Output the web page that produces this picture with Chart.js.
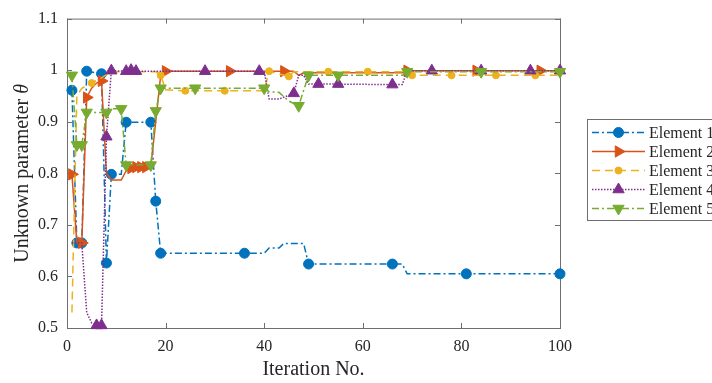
<!DOCTYPE html>
<html>
<head>
<meta charset="utf-8">
<script src="https://cdn.jsdelivr.net/npm/chart.js@4"></script>
<style>
html, body { margin: 0; padding: 0; background: #fff; }
</style>
</head>
<body>
<canvas id="chart" width="712" height="383"></canvas>
<script>
// series: iteration, value, and iterations that carry a marker
const names = ["Element 1", "Element 2", "Element 3", "Element 4", "Element 5"];

const e1X = [1, 2, 3, 4, 7, 8, 9, 11, 12, 17, 18, 19, 36, 40, 41, 43, 44, 48, 49, 66, 68, 69, 81, 100];
const e1Y = [0.961, 0.665, 0.665, 0.998, 0.993, 0.626, 0.798, 0.798, 0.899, 0.899, 0.746, 0.645, 0.645, 0.645, 0.655, 0.655, 0.664, 0.664, 0.624, 0.624, 0.624, 0.605, 0.605, 0.605];
const e1Marks = [1, 2, 3, 4, 7, 8, 9, 12, 17, 18, 19, 36, 49, 66, 81, 100];

const e2X = [1, 2, 3, 4, 5, 6, 7, 8, 9, 11, 12, 13, 14, 15, 16, 17, 18, 19, 20, 33, 44, 46, 47, 48, 68, 69, 83, 96, 100];
const e2Y = [0.798, 0.665, 0.665, 0.947, 0.965, 0.975, 0.979, 0.80, 0.787, 0.787, 0.805, 0.81, 0.812, 0.812, 0.812, 0.812, 0.90, 0.99, 0.998, 0.998, 0.998, 0.998, 0.99, 0.995, 0.995, 0.999, 0.999, 0.999, 0.999];
const e2Marks = [1, 3, 4, 7, 13, 14, 15, 16, 20, 33, 44, 69, 83, 96];

const e3X = [1, 2, 3, 5, 7, 9, 17, 18, 19, 20, 24, 32, 40, 41, 45, 46, 53, 61, 68, 70, 78, 87, 95, 100];
const e3Y = [0.53, 0.95, 0.965, 0.975, 0.985, 0.997, 0.997, 0.997, 0.99, 0.962, 0.96, 0.96, 0.96, 0.998, 0.988, 0.997, 0.997, 0.997, 0.997, 0.99, 0.99, 0.99, 0.99, 0.99];
const e3Marks = [5, 19, 24, 32, 41, 45, 53, 61, 70, 78, 87, 95];

const e4X = [1, 2, 3, 4, 5, 6, 7, 8, 9, 12, 13, 14, 28, 39, 40, 41, 43, 46, 47, 48, 49, 51, 55, 66, 68, 69, 74, 84, 94, 100];
const e4Y = [0.665, 0.665, 0.665, 0.53, 0.51, 0.505, 0.505, 0.871, 0.999, 0.998, 1.0, 0.998, 0.998, 0.998, 0.998, 0.944, 0.944, 0.955, 0.99, 0.99, 0.973, 0.973, 0.973, 0.972, 0.972, 0.999, 0.999, 0.999, 0.999, 0.999];
const e4Marks = [6, 7, 8, 9, 12, 13, 14, 28, 39, 46, 51, 55, 66, 74, 84, 94, 100];

const e5X = [1, 2, 3, 4, 8, 9, 11, 12, 17, 18, 19, 26, 40, 41, 43, 45, 47, 49, 55, 68, 69, 84, 100];
const e5Y = [0.99, 0.855, 0.855, 0.918, 0.918, 0.925, 0.925, 0.816, 0.816, 0.921, 0.965, 0.965, 0.965, 0.958, 0.957, 0.94, 0.931, 0.99, 0.99, 0.99, 0.997, 0.997, 0.997];
const e5Marks = [1, 2, 3, 4, 8, 11, 12, 17, 18, 19, 26, 40, 47, 49, 55, 69, 84, 100];

const FONT = '"Liberation Serif", "Times New Roman", serif';
const TEXT = "#262626";
const AXIS = "#6f6f6f";

function points(xs, ys) {
    return xs.map((x, i) => ({ x: x, y: ys[i] }));
}

function markAt(marks, r) {
    return (ctx) => (ctx.raw && marks.includes(ctx.raw.x) ? r : 0);
}

function series(i, xs, ys, marks, style) {
    return Object.assign({
        label: names[i],
        data: points(xs, ys),
        borderWidth: 1.5,
        pointRadius: markAt(marks, style.r),
        pointHoverRadius: 0,
        pointBorderWidth: 1,
        pointBackgroundColor: style.borderColor,
        tension: 0,
        fill: false,
        clip: false,
        order: 4 - i,
    }, style);
}

const datasets = [
    series(0, e1X, e1Y, e1Marks, { borderColor: "#0072BD", borderDash: [7, 3, 2, 3], pointStyle: "circle", r: 5, pointRotation: 0 }),
    series(1, e2X, e2Y, e2Marks, { borderColor: "#D95319", borderDash: [], pointStyle: "triangle", r: 6.5, pointRotation: 90 }),
    series(2, e3X, e3Y, e3Marks, { borderColor: "#EDB120", borderDash: [8, 5], pointStyle: "circle", r: 3.5, pointRotation: 0 }),
    series(3, e4X, e4Y, e4Marks, { borderColor: "#7E2F8E", borderDash: [1.5, 1.5], pointStyle: "triangle", r: 6.5, pointRotation: 0 }),
    series(4, e5X, e5Y, e5Marks, { borderColor: "#77AC30", borderDash: [7, 3, 2, 3], pointStyle: "triangle", r: 6.5, pointRotation: 180 }),
];

// box round the axes with inward ticks, like matlab
const framePlugin = {
    id: "frame",
    beforeDatasetsDraw(chart) {
        const { ctx, chartArea: a, scales } = chart;
        ctx.save();
        ctx.strokeStyle = AXIS;
        ctx.lineWidth = 1;
        ctx.strokeRect(a.left + 0.5, a.top + 0.5, a.right - a.left, a.bottom - a.top);
        const len = 5;
        ctx.beginPath();
        scales.x.ticks.forEach((t) => {
            const px = Math.round(scales.x.getPixelForValue(t.value)) + 0.5;
            ctx.moveTo(px, a.bottom);
            ctx.lineTo(px, a.bottom - len);
            ctx.moveTo(px, a.top);
            ctx.lineTo(px, a.top + len);
        });
        scales.y.ticks.forEach((t) => {
            const py = Math.round(scales.y.getPixelForValue(t.value)) + 0.5;
            ctx.moveTo(a.left, py);
            ctx.lineTo(a.left + len, py);
            ctx.moveTo(a.right, py);
            ctx.lineTo(a.right - len, py);
        });
        ctx.stroke();
        ctx.restore();
    },
};

const titlePlugin = {
    id: "titles",
    afterDraw(chart) {
        const { ctx, chartArea: a } = chart;
        ctx.save();
        ctx.fillStyle = TEXT;
        ctx.textBaseline = "middle";
        ctx.textAlign = "center";
        ctx.font = "20px " + FONT;
        ctx.fillText("Iteration No.", (a.left + a.right) / 2, 370);

        // y title, with theta in italics
        const part1 = "Unknown parameter ";
        const part2 = "\u03B8";
        ctx.font = "20px " + FONT;
        const w1 = ctx.measureText(part1).width;
        ctx.font = "italic 20px " + FONT;
        const w2 = ctx.measureText(part2).width;
        ctx.translate(23, (a.top + a.bottom) / 2);
        ctx.rotate(-Math.PI / 2);
        ctx.textAlign = "left";
        const start = -(w1 + w2) / 2;
        ctx.font = "20px " + FONT;
        ctx.fillText(part1, start, 0);
        ctx.font = "italic 20px " + FONT;
        ctx.fillText(part2, start + w1, 0);
        ctx.restore();
    },
};

const legendPlugin = {
    id: "boxLegend",
    afterDraw(chart) {
        const ctx = chart.ctx;
        const left = 587.5, top = 119.5, rowH = 19;
        const n = chart.data.datasets.length;
        ctx.save();
        ctx.fillStyle = "#fff";
        ctx.fillRect(left, top, 140, rowH * n + 6);
        ctx.strokeStyle = AXIS;
        ctx.lineWidth = 1;
        ctx.strokeRect(left, top, 140, rowH * n + 6);
        chart.data.datasets.forEach((ds, i) => {
            const y = top + 13 + i * rowH;
            ctx.strokeStyle = ds.borderColor;
            ctx.lineWidth = ds.borderWidth;
            ctx.setLineDash(ds.borderDash);
            ctx.beginPath();
            ctx.moveTo(592, y);
            ctx.lineTo(645, y);
            ctx.stroke();
            ctx.setLineDash([]);
            ctx.fillStyle = ds.borderColor;
            ctx.lineWidth = 1;
            Chart.helpers.drawPoint(ctx, {
                pointStyle: ds.pointStyle,
                rotation: ds.pointRotation,
                radius: ds.r,
                borderWidth: 1,
            }, 618.5, y);
            ctx.fillStyle = TEXT;
            ctx.font = "16px " + FONT;
            ctx.textBaseline = "middle";
            ctx.textAlign = "left";
            ctx.fillText(ds.label, 649, y + 1);
        });
        ctx.restore();
    },
};

new Chart(document.getElementById("chart"), {
    type: "line",
    data: { datasets: datasets },
    options: {
        responsive: false,
        animation: false,
        devicePixelRatio: 1,
        layout: { padding: { top: 13, right: 152, left: 0, bottom: 0 } },
        plugins: { legend: { display: false }, tooltip: { enabled: false } },
        scales: {
            x: {
                type: "linear",
                min: 0,
                max: 100,
                grid: { display: false, drawTicks: false },
                border: { display: false },
                ticks: { stepSize: 20, maxRotation: 0, padding: 9, color: TEXT, font: { family: FONT, size: 16 } },
                afterFit: (s) => { s.height = 55; },
            },
            y: {
                type: "linear",
                min: 0.5,
                max: 1.1,
                grid: { display: false, drawTicks: false },
                border: { display: false },
                ticks: {
                    stepSize: 0.1,
                    padding: 9,
                    color: TEXT,
                    font: { family: FONT, size: 16 },
                    callback: (v) => String(Number(v.toFixed(1))),
                },
                afterFit: (s) => { s.width = 67; },
            },
        },
    },
    plugins: [framePlugin, titlePlugin, legendPlugin],
});
</script>
</body>
</html>
